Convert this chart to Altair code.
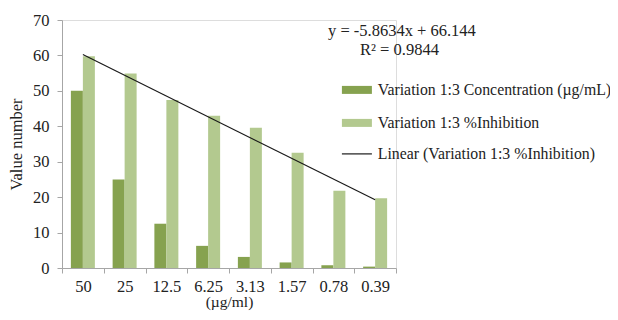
import altair as alt
import pandas as pd

categories = ["50", "25", "12.5", "6.25", "3.13", "1.57", "0.78", "0.39"]
concentration = [50, 25, 12.5, 6.25, 3.13, 1.57, 0.78, 0.39]
inhibition = [59.8, 54.9, 47.4, 43.0, 39.6, 32.5, 21.8, 19.7]
trend_cats = ["50", "0.39"]
trend_vals = [60.28, 19.24]
series_names = [
    "Variation 1:3 Concentration (µg/mL)",
    "Variation 1:3 %Inhibition",
    "Linear (Variation 1:3 %Inhibition)",
]
colors = ["#86a24f", "#b3c98f", "#1a1a1a"]
equation = "y = -5.8634x + 66.144"
r2 = "R² = 0.9844"
y_ticks = [0, 10, 20, 30, 40, 50, 60, 70]

FONT = "Liberation Serif"
TXT = "#222222"
AXC = "#a6a6a6"
FS = 16.5
LFS = 15.8

bars = pd.DataFrame(
    {
        "cat": categories * 2,
        "series": [series_names[0]] * 8 + [series_names[1]] * 8,
        "value": concentration + inhibition,
    }
)
trend = pd.DataFrame({"cat": trend_cats, "series": [series_names[2]] * 2, "value": trend_vals})


def make_legend(y, shape):
    return alt.Legend(
        orient="none",
        legendX=287,
        legendY=y,
        title=None,
        padding=0,
        labelFont=FONT,
        labelFontSize=LFS,
        labelColor=TXT,
        labelOffset=13,
        labelLimit=400,
        symbolSize=100,
        symbolType=shape,
        symbolStrokeWidth=1.2,
        symbolOpacity=1,
        rowPadding=16,
    )


x_axis = alt.Axis(
    title="(µg/ml)",
    labelAngle=0,
    tickBand="extent",
    tickSize=5,
    tickColor=AXC,
    domainColor=AXC,
    labelFont=FONT,
    labelFontSize=FS,
    labelColor=TXT,
    labelPadding=5,
    labelOverlap=False,
    titleFont=FONT,
    titleFontSize=15.5,
    titleFontWeight="normal",
    titleColor=TXT,
    titlePadding=0,
)
y_axis = alt.Axis(
    values=y_ticks,
    grid=False,
    tickSize=5,
    tickColor=AXC,
    domainColor=AXC,
    labelFont=FONT,
    labelFontSize=FS,
    labelColor=TXT,
    labelPadding=8,
    labelOverlap=False,
    labelFlush=False,
    title="Value number",
    titleFont=FONT,
    titleFontSize=FS,
    titleFontWeight="normal",
    titleColor=TXT,
    titlePadding=8,
)
x_scale = alt.Scale(domain=categories, paddingInner=0, paddingOuter=0)
y_scale = alt.Scale(domain=[0, 70], nice=False, zero=True)

bar_layer = alt.Chart(bars).mark_bar().encode(
    x=alt.X("cat:N", sort=categories, scale=x_scale, axis=x_axis),
    xOffset=alt.XOffset(
        "series:N",
        sort=series_names[:2],
        scale=alt.Scale(domain=series_names[:2], paddingInner=0, paddingOuter=0.74),
    ),
    y=alt.Y("value:Q", scale=y_scale, axis=y_axis),
    color=alt.Color(
        "series:N",
        scale=alt.Scale(domain=series_names[:2], range=colors[:2]),
        legend=make_legend(62, "M-3,-0.8H3V0.8H-3Z"),
    ),
)

line_layer = alt.Chart(trend).mark_line(strokeWidth=1.2).encode(
    x=alt.X("cat:N", sort=categories, scale=x_scale, axis=x_axis),
    y=alt.Y("value:Q", scale=y_scale, axis=y_axis),
    stroke=alt.Stroke(
        "series:N",
        scale=alt.Scale(domain=series_names[2:], range=colors[2:]),
        legend=make_legend(126, "M-3,0H3"),
    ),
)

eq_layer = alt.Chart(pd.DataFrame({"t": [equation]})).mark_text(
    align="left", baseline="middle", font=FONT, fontSize=FS, color=TXT
).encode(text="t:N", x=alt.value(266), y=alt.value(11))

r2_layer = alt.Chart(pd.DataFrame({"t": [r2]})).mark_text(
    align="left", baseline="middle", font=FONT, fontSize=FS, color=TXT
).encode(text="t:N", x=alt.value(298), y=alt.value(30))

chart = (
    alt.layer(bar_layer, line_layer, eq_layer, r2_layer)
    .resolve_legend(color="independent", stroke="independent")
    .properties(
        width=334,
        height=248,
        autosize=alt.AutoSizeParams(type="none"),
        padding={"left": 54, "top": 12, "right": 214, "bottom": 44},
    )
    .configure_view(stroke=None)
    .configure(background="white")
)

chart.save("out.html", embed_options={"renderer": "svg", "actions": False})
